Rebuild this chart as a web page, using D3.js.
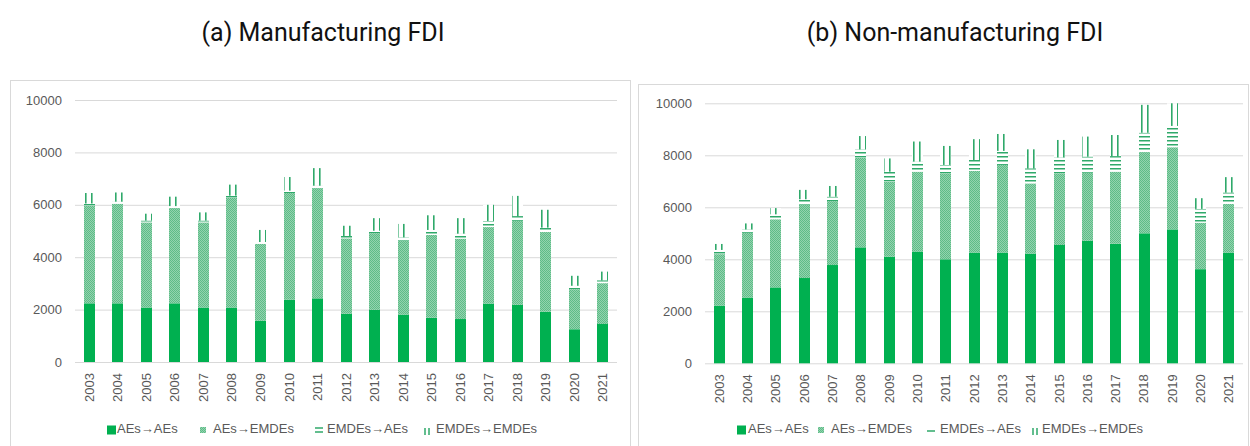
<!DOCTYPE html>
<html>
<head>
<meta charset="utf-8">
<script src="https://cdn.jsdelivr.net/npm/d3@7"></script>
<style>
  body { margin: 0; background: #fff; }
  svg { display: block; }
</style>
</head>
<body>
<script>
const years = [2003, 2004, 2005, 2006, 2007, 2008, 2009, 2010, 2011, 2012,
  2013, 2014, 2015, 2016, 2017, 2018, 2019, 2020, 2021];

// (a) manufacturing FDI
const mfgAEsToAEs     = [2240, 2240, 2080, 2240, 2080, 2080, 1580, 2380, 2430, 1840, 1990, 1810, 1690, 1640, 2230, 2180, 1920, 1250, 1450];
const mfgAEsToEMDEs   = [3720, 3800, 3250, 3630, 3250, 4180, 2930, 4070, 4200, 2880, 2930, 2830, 3160, 3070, 2920, 3210, 3040, 1530, 1560];
const mfgEMDEsToAEs   = [90, 80, 70, 80, 70, 90, 70, 90, 100, 90, 90, 120, 190, 190, 230, 180, 170, 130, 110];
const mfgEMDEsToEMDEs = [400, 350, 260, 360, 310, 420, 460, 520, 670, 390, 480, 510, 560, 590, 620, 770, 680, 380, 330];

// (b) non-manufacturing FDI
const nonAEsToAEs     = [2220, 2530, 2920, 3280, 3780, 4460, 4100, 4300, 4000, 4260, 4260, 4220, 4550, 4720, 4600, 5000, 5150, 3620, 4260];
const nonAEsToEMDEs   = [1980, 2490, 2620, 2830, 2460, 3440, 2890, 3070, 3310, 3140, 3370, 2700, 2760, 2610, 2770, 3120, 3160, 1790, 1870];
const nonEMDEsToAEs   = [160, 130, 190, 200, 170, 330, 380, 390, 320, 420, 540, 580, 610, 620, 600, 750, 820, 530, 440];
const nonEMDEsToEMDEs = [230, 230, 240, 360, 410, 510, 510, 770, 730, 800, 650, 730, 670, 770, 810, 1070, 870, 410, 590];

const keys = ['aa', 'ae', 'ea', 'ee'];
const legendLabels = ['AEs→AEs', 'AEs→EMDEs', 'EMDEs→AEs', 'EMDEs→EMDEs'];
const yTicks = [0, 2000, 4000, 6000, 8000, 10000];

const GREEN = '#00b050';
const LINE_GREEN = '#2fa96a';
const GRID = '#d9d9d9';
const LABEL = '#595959';
const FONT = '"Liberation Sans", Arial, sans-serif';

const svg = d3.select('body').append('svg')
  .attr('width', 1250)
  .attr('height', 446);

const defs = svg.append('defs');

const checker = defs.append('pattern')
  .attr('id', 'checker')
  .attr('patternUnits', 'userSpaceOnUse')
  .attr('width', 2)
  .attr('height', 2);
checker.append('rect').attr('width', 2).attr('height', 2).attr('fill', '#93d3ae');
checker.append('rect').attr('width', 1).attr('height', 1).attr('fill', '#5ebc88');
checker.append('rect').attr('x', 1).attr('y', 1).attr('width', 1).attr('height', 1).attr('fill', '#5ebc88');

const hlines = defs.append('pattern')
  .attr('id', 'hlines')
  .attr('patternUnits', 'userSpaceOnUse')
  .attr('width', 4)
  .attr('height', 4);
hlines.append('rect').attr('width', 4).attr('height', 4).attr('fill', '#fff');
hlines.append('rect').attr('width', 4).attr('height', 1.5).attr('fill', LINE_GREEN);

const vlines = defs.append('pattern')
  .attr('id', 'vlines')
  .attr('patternUnits', 'userSpaceOnUse')
  .attr('width', 6)
  .attr('height', 6);
vlines.append('rect').attr('width', 6).attr('height', 6).attr('fill', '#fff');
vlines.append('rect').attr('x', 1).attr('width', 1.6).attr('height', 6).attr('fill', LINE_GREEN);

const fills = [GREEN, 'url(#checker)', 'url(#hlines)', 'url(#vlines)'];

const panels = [
  {
    title: '(a) Manufacturing FDI',
    titleX: 323,
    box: [10.5, 80.5, 620, 370],
    left: 75, right: 617, top: 100, bottom: 362,
    series: [mfgAEsToAEs, mfgAEsToEMDEs, mfgEMDEsToAEs, mfgEMDEsToEMDEs],
    legendX: [107, 200, 315, 425],
    textX: [117, 213, 327, 436],
    eaLines: 2,
  },
  {
    title: '(b) Non-manufacturing FDI',
    titleX: 955,
    box: [638.5, 84.5, 610, 370],
    left: 705, right: 1243, top: 103.3, bottom: 363.3,
    series: [nonAEsToAEs, nonAEsToEMDEs, nonEMDEsToAEs, nonEMDEsToEMDEs],
    legendX: [737, 818, 927, 1033],
    textX: [748, 831, 940, 1042],
    eaLines: 1,
  },
];

function drawPanel(p) {
  const g = svg.append('g');

  g.append('rect')
    .attr('x', p.box[0])
    .attr('y', p.box[1])
    .attr('width', p.box[2])
    .attr('height', p.box[3])
    .attr('fill', 'none')
    .attr('stroke', GRID);

  svg.append('text')
    .attr('x', p.titleX)
    .attr('y', 34)
    .attr('text-anchor', 'middle')
    .attr('dominant-baseline', 'middle')
    .attr('font-family', 'Roboto, sans-serif')
    .attr('font-size', 25)
    .attr('fill', '#111')
    .text(p.title);

  const x = d3.scaleBand()
    .domain(years)
    .range([p.left, p.right])
    .paddingInner(0.62)
    .paddingOuter(0.31);

  const y = d3.scaleLinear()
    .domain([0, 10000])
    .range([p.bottom, p.top]);

  const yAxis = g.append('g')
    .attr('transform', `translate(${p.left}, 0)`)
    .call(d3.axisLeft(y)
      .tickValues(yTicks)
      .tickFormat(d3.format('d'))
      .tickSize(-(p.right - p.left))
      .tickPadding(13));
  yAxis.select('.domain').remove();
  yAxis.selectAll('line').attr('stroke', GRID);
  yAxis.selectAll('text')
    .attr('fill', LABEL)
    .attr('font-family', FONT)
    .attr('font-size', 13);

  const rows = years.map((year, i) => {
    const row = { year };
    keys.forEach((k, j) => { row[k] = p.series[j][i]; });
    return row;
  });
  const stacked = d3.stack().keys(keys)(rows);

  stacked.forEach((layer, j) => {
    g.append('g')
      .attr('fill', fills[j])
      .selectAll('rect')
      .data(layer)
      .join('rect')
        .attr('x', d => Math.round(x(d.data.year)))
        .attr('width', Math.round(x.bandwidth()))
        .attr('y', d => y(Math.min(d[1], 10000)))
        .attr('height', d => y(d[0]) - y(Math.min(d[1], 10000)));
  });

  const xAxis = g.append('g')
    .attr('transform', `translate(0, ${p.bottom})`)
    .call(d3.axisBottom(x).tickSize(0));
  xAxis.select('.domain').remove();
  xAxis.selectAll('text')
    .attr('transform', 'rotate(-90)')
    .attr('x', -11)
    .attr('y', 0)
    .attr('dy', '0.35em')
    .attr('text-anchor', 'end')
    .attr('fill', LABEL)
    .attr('font-family', FONT)
    .attr('font-size', 13);

  // legend
  const ly = 430;
  const legend = g.append('g');
  legend.append('rect')
    .attr('x', p.legendX[0]).attr('y', ly - 4.5)
    .attr('width', 9).attr('height', 9)
    .attr('fill', GREEN);
  legend.append('rect')
    .attr('x', p.legendX[1]).attr('y', ly - 3)
    .attr('width', 6).attr('height', 6)
    .attr('fill', 'url(#checker)');
  for (let k = 0; k < p.eaLines; k++) {
    const yy = p.eaLines === 2 ? ly - 2 + k * 4 : ly + 1;
    legend.append('line')
      .attr('x1', p.legendX[2]).attr('x2', p.legendX[2] + 8)
      .attr('y1', yy).attr('y2', yy)
      .attr('stroke', LINE_GREEN).attr('stroke-width', 1.5);
  }
  [0, 4].forEach(dx => {
    legend.append('line')
      .attr('x1', p.legendX[3] + dx).attr('x2', p.legendX[3] + dx)
      .attr('y1', ly - 2).attr('y2', ly + 5)
      .attr('stroke', LINE_GREEN).attr('stroke-width', 1.5);
  });
  legend.selectAll('text')
    .data(legendLabels)
    .join('text')
      .attr('x', (_, i) => p.textX[i])
      .attr('y', ly)
      .attr('dominant-baseline', 'middle')
      .attr('fill', LABEL)
      .attr('font-family', FONT)
      .attr('font-size', 13)
      .text(d => d);
}

panels.forEach(drawPanel);
</script>
</body>
</html>
